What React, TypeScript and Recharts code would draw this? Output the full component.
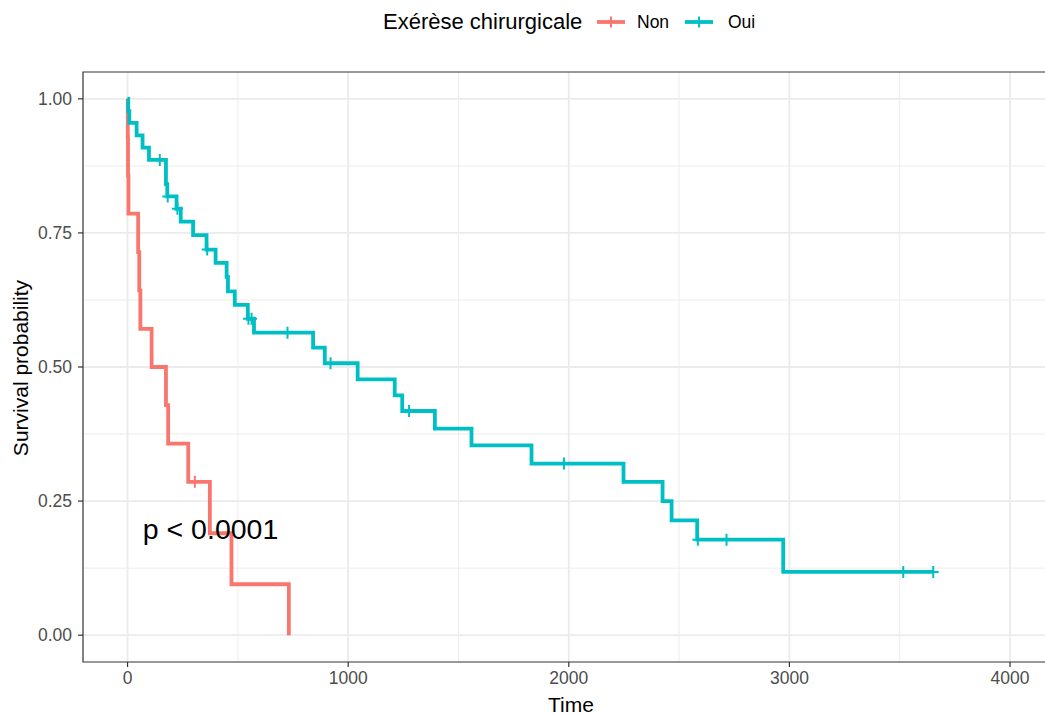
import { LineChart, Line, XAxis, YAxis, CartesianGrid, ReferenceArea, ReferenceDot } from 'recharts'

// Kaplan-Meier steps: time, survival, censored (1 = "+")
const nonTime = [0, 1, 2, 4, 48, 53, 58, 109, 174, 184, 275, 305, 373, 471, 731]
const nonSurv = [1, 0.929, 0.857, 0.786, 0.714, 0.643, 0.571, 0.5, 0.429, 0.357, 0.286, 0.286, 0.19, 0.095, 0]
const nonCens = [0, 0, 0, 0, 0, 0, 0, 0, 0, 0, 0, 1, 0, 0, 0]

const ouiTime = [
  0, 3, 8, 41, 68, 97, 146, 174, 180, 182, 222, 226, 241, 297, 358, 361, 399, 449, 455, 486,
  545, 548, 562, 573, 725, 841, 894, 920, 1043, 1211, 1245, 1276, 1393, 1559, 1831, 1978,
  2248, 2425, 2466, 2582, 2585, 2715, 2972, 3516, 3652,
]
const ouiSurv = [
  1, 0.977, 0.955, 0.932, 0.909, 0.886, 0.886, 0.841, 0.818, 0.818, 0.795, 0.795, 0.771, 0.746,
  0.719, 0.719, 0.694, 0.668, 0.641, 0.616, 0.59, 0.59, 0.59, 0.564, 0.564, 0.536, 0.507, 0.507,
  0.477, 0.447, 0.418, 0.418, 0.385, 0.354, 0.32, 0.32, 0.286, 0.25, 0.214, 0.178, 0.178, 0.178,
  0.118, 0.118, 0.118,
]
const ouiCens = [
  0, 0, 0, 0, 0, 0, 1, 0, 0, 1, 0, 1, 0, 0, 0, 1, 0, 0, 0, 0, 0, 1, 1, 0, 1, 0, 0, 1, 0, 0, 0, 1,
  0, 0, 0, 1, 0, 0, 0, 0, 1, 1, 0, 1, 1,
]

const xTicks = [0, 1000, 2000, 3000, 4000]
const xMinor = [500, 1500, 2500, 3500]
const yTicks = [0, 0.25, 0.5, 0.75, 1]
const yMinor = [0.125, 0.375, 0.625, 0.875]

const X_DOMAIN: [number, number] = [-202, 4222]
const Y_DOMAIN: [number, number] = [-0.05, 1.05]

const RED = '#F8766D'
const TEAL = '#00BFC4'

const nonData = nonTime.map((t, i) => ({ t, s: nonSurv[i], c: nonCens[i] }))
const ouiData = ouiTime.map((t, i) => ({ t, s: ouiSurv[i], c: ouiCens[i] }))

// draws a "+" only where the point is censored
function censorDot(color: string) {
  return (props: any) => {
    const { cx, cy, payload, index } = props
    if (!payload || !payload.c) return <g key={`n-${index}`} />
    return (
      <path
        key={`c-${index}`}
        d={`M${cx - 5.5},${cy}H${cx + 5.5}M${cx},${cy - 6}V${cy + 6}`}
        stroke={color}
        strokeWidth={2}
        fill="none"
      />
    )
  }
}

export default function App() {
  return (
    <div
      style={{
        position: 'absolute',
        left: 0,
        top: 0,
        width: 1045,
        height: 715,
        overflow: 'hidden',
        background: '#fff',
        fontFamily: '"Liberation Sans", Arial, sans-serif',
      }}
    >
      <LineChart width={1065} height={715} margin={{ top: 72, right: 6, bottom: 0, left: 0 }}>
        <CartesianGrid
          verticalValues={xMinor}
          horizontalValues={yMinor}
          stroke="#EBEBEB"
          strokeWidth={0.9}
        />
        <CartesianGrid
          verticalValues={xTicks}
          horizontalValues={yTicks}
          stroke="#EBEBEB"
          strokeWidth={1.8}
        />
        <XAxis
          dataKey="t"
          type="number"
          domain={X_DOMAIN}
          ticks={xTicks}
          allowDataOverflow
          height={53}
          axisLine={false}
          tickSize={5}
          tickMargin={5}
          tickLine={{ stroke: '#333333', strokeWidth: 1.2 }}
          tick={{ fill: '#4D4D4D', fontSize: 17.5 }}
        />
        <YAxis
          type="number"
          domain={Y_DOMAIN}
          ticks={yTicks}
          allowDataOverflow
          width={83}
          axisLine={false}
          tickSize={5}
          tickMargin={6}
          tickLine={{ stroke: '#333333', strokeWidth: 1.2 }}
          tick={{ fill: '#4D4D4D', fontSize: 17.5 }}
          tickFormatter={(v) => v.toFixed(2)}
        />
        <Line
          data={nonData}
          dataKey="s"
          type="stepAfter"
          stroke={RED}
          strokeWidth={3.8}
          dot={censorDot(RED)}
          activeDot={false}
          isAnimationActive={false}
        />
        <Line
          data={ouiData}
          dataKey="s"
          type="stepAfter"
          stroke={TEAL}
          strokeWidth={3.8}
          dot={censorDot(TEAL)}
          activeDot={false}
          isAnimationActive={false}
        />
        <ReferenceArea
          x1={X_DOMAIN[0]}
          x2={X_DOMAIN[1]}
          y1={Y_DOMAIN[0]}
          y2={Y_DOMAIN[1]}
          fill="none"
          fillOpacity={0}
          stroke="#333333"
          strokeWidth={1.2}
          ifOverflow="visible"
        />
        <ReferenceDot
          x={69}
          y={0.18}
          r={0}
          ifOverflow="visible"
          shape={(p: any) => (
            <text x={p.cx} y={p.cy} fontSize={28.5} fill="#000">
              p &lt; 0.0001
            </text>
          )}
        />
      </LineChart>

      {/* legend and axis titles */}
      <svg
        width={1045}
        height={715}
        style={{ position: 'absolute', left: 0, top: 0, pointerEvents: 'none' }}
      >
        <text x={383} y={29} fontSize={22} fill="#000">
          Exérèse chirurgicale
        </text>
        <line x1={597} y1={22} x2={625} y2={22} stroke={RED} strokeWidth={3.8} />
        <line x1={611} y1={16.5} x2={611} y2={27.5} stroke={RED} strokeWidth={2} />
        <text x={637} y={28} fontSize={17.5} fill="#000">
          Non
        </text>
        <line x1={685} y1={22} x2={713} y2={22} stroke={TEAL} strokeWidth={3.8} />
        <line x1={699} y1={16.5} x2={699} y2={27.5} stroke={TEAL} strokeWidth={2} />
        <text x={728} y={28} fontSize={17.5} fill="#000">
          Oui
        </text>
        <text x={571} y={712} fontSize={21} fill="#000" textAnchor="middle">
          Time
        </text>
        <text
          x={28}
          y={368}
          fontSize={21}
          fill="#000"
          textAnchor="middle"
          transform="rotate(-90 28 368)"
        >
          Survival probability
        </text>
      </svg>
    </div>
  )
}
